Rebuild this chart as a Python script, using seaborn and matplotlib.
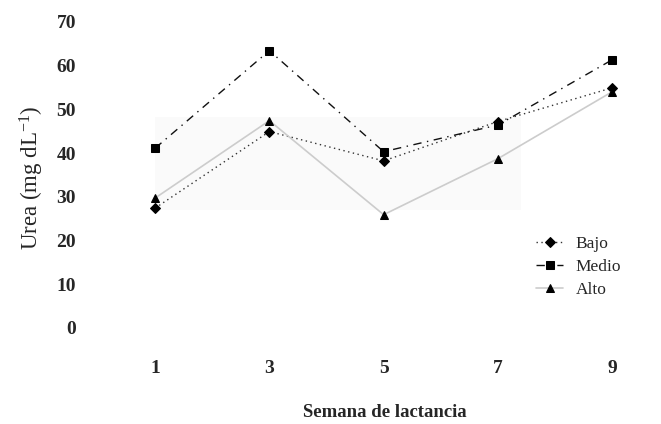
import pandas as pd
import matplotlib.pyplot as plt
import seaborn as sns
from matplotlib.patches import Rectangle

weeks = [1, 3, 5, 7, 9]
bajo = [27.4, 44.9, 38.2, 47.2, 54.9]
medio = [41.1, 63.4, 40.3, 46.4, 61.3]
alto = [29.7, 47.4, 25.9, 38.7, 54.0]
groups = ['Bajo', 'Medio', 'Alto']

df = pd.DataFrame({
    'Semana': weeks * 3,
    'Urea': bajo + medio + alto,
    'Grupo': ['Bajo'] * 5 + ['Medio'] * 5 + ['Alto'] * 5,
})

sns.set_style('white')
plt.rcParams['font.family'] = ['Liberation Serif', 'DejaVu Serif']
plt.rcParams['mathtext.fontset'] = 'custom'
plt.rcParams['mathtext.rm'] = 'Liberation Serif'
plt.rcParams['mathtext.it'] = 'Liberation Serif'

fig = plt.figure(figsize=(6.61, 4.24), dpi=100)
ax = fig.add_axes([90 / 661, (424 - 328) / 424, 565 / 661, 315 / 424])

# faint grey box behind the lines (scan artefact in the original)
ax.add_patch(Rectangle((1.0, 27.0), 6.4, 21.3, color='#fafafa', lw=0, zorder=0))

styles = {
    'Bajo': dict(color='#333333', linestyle=(0, (1, 2.5)), marker='D', markersize=5, lw=1),
    'Medio': dict(color='#111111', linestyle=(0, (6, 4, 1, 4)), marker='s', markersize=6, lw=1),
    'Alto': dict(color='#cccccc', linestyle='-', marker='^', markersize=6, lw=1.2),
}
for g in groups:
    st = styles[g]
    sns.lineplot(data=df[df['Grupo'] == g], x='Semana', y='Urea', ax=ax,
                 color=st['color'], linestyle=st['linestyle'], lw=st['lw'],
                 marker=st['marker'], markersize=st['markersize'],
                 markerfacecolor='black', markeredgecolor='black',
                 label=g, clip_on=False)

ax.set_xlim(-0.14, 9.75)
ax.set_ylim(0, 72)
ax.set_xticks(weeks)
ax.set_yticks(range(0, 71, 10))
ax.tick_params(axis='both', length=0, labelsize=14)
ax.tick_params(axis='x', pad=23)
ax.tick_params(axis='y', pad=10)
for lab in ax.get_xticklabels() + ax.get_yticklabels():
    lab.set_fontweight('bold')
sns.despine(ax=ax, left=True, bottom=True)

ax.set_xlabel('Semana de lactancia', fontsize=13.5, fontweight='bold')
ax.xaxis.set_label_coords((385 - 90) / 565, -(404 - 328) / 315)
ax.set_ylabel('Urea (mg dL$^{-1}$)', fontsize=16.5)
ax.yaxis.set_label_coords(-(90 - 46) / 565, (328 - 178) / 315)

ax.legend(loc='upper left', bbox_to_anchor=(430 / 565, (328 - 220) / 315),
          frameon=False, fontsize=12.5, handlelength=1.6, labelspacing=0.4, handletextpad=0.7)

fig.savefig('out.png', dpi=100)
